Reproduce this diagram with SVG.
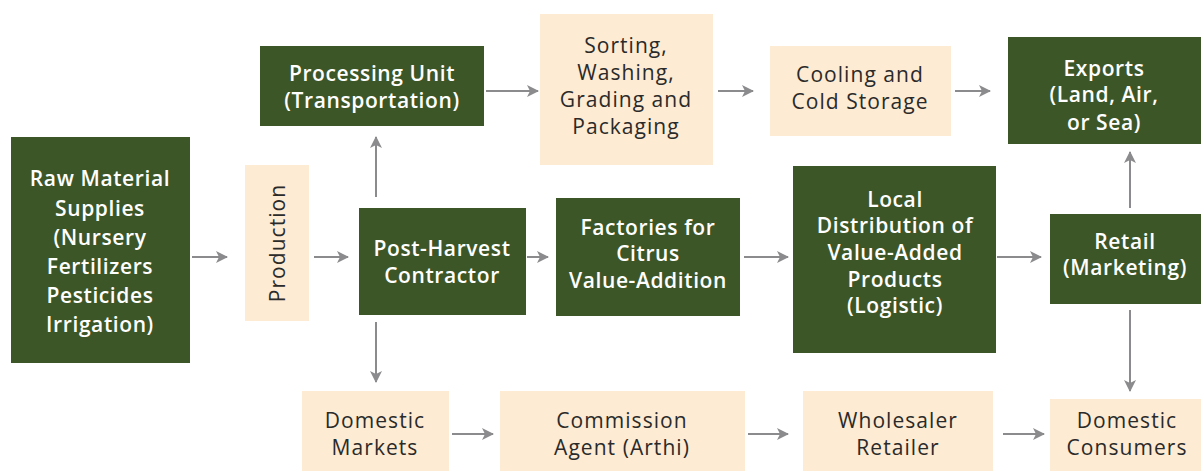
<svg xmlns="http://www.w3.org/2000/svg" width="1201" height="471" viewBox="0 0 1201 471">
<style>
.g{fill:#3c5628}
.b{fill:#fdebd3}
.tw{fill:#ffffff;font-family:"Open Sans","Liberation Sans",sans-serif;font-size:21px;font-weight:600;letter-spacing:0.6px;text-anchor:middle}
.td{fill:#2a2a2a;font-family:"Open Sans","Liberation Sans",sans-serif;font-size:21px;font-weight:400;letter-spacing:1.05px;text-anchor:middle}
.c{stroke:#8b8b8e;stroke-width:2;fill:none;marker-end:url(#ah)}
</style>
<defs>
<marker id="ah" viewBox="0 0 12 12" refX="11" refY="6" markerWidth="12" markerHeight="12" markerUnits="userSpaceOnUse" orient="auto">
<path d="M0,0 L12,6 L0,12 L3,6 Z" fill="#8b8b8e"/>
</marker>
</defs>
<rect width="1201" height="471" fill="#ffffff"/>
<g id="connectors">
<line class="c" x1="192" y1="257" x2="227" y2="257"/>
<line class="c" x1="314" y1="257" x2="348" y2="257"/>
<line class="c" x1="376" y1="197" x2="376" y2="137"/>
<line class="c" x1="376" y1="322" x2="376" y2="382"/>
<line class="c" x1="486" y1="91" x2="538" y2="91"/>
<line class="c" x1="718" y1="91" x2="753" y2="91"/>
<line class="c" x1="955" y1="91" x2="990" y2="91"/>
<line class="c" x1="527" y1="257" x2="548" y2="257"/>
<line class="c" x1="744" y1="257" x2="788" y2="257"/>
<line class="c" x1="997" y1="257" x2="1041" y2="257"/>
<line class="c" x1="1130" y1="208" x2="1130" y2="152"/>
<line class="c" x1="1130" y1="310" x2="1130" y2="391"/>
<line class="c" x1="452" y1="434" x2="493" y2="434"/>
<line class="c" x1="748" y1="434" x2="788" y2="434"/>
<line class="c" x1="1003" y1="434" x2="1044" y2="434"/>
</g>
<g id="raw">
<rect class="g" x="11" y="137" width="179" height="226"/>
<text class="tw" x="100" y="186">Raw Material</text>
<text class="tw" x="100" y="216">Supplies</text>
<text class="tw" x="100" y="245">(Nursery</text>
<text class="tw" x="100" y="274">Fertilizers</text>
<text class="tw" x="100" y="303">Pesticides</text>
<text class="tw" x="100" y="332">Irrigation)</text>
</g>
<g id="production">
<rect class="b" x="245" y="165" width="64" height="156"/>
<text class="td" transform="translate(285,243) rotate(-90)">Production</text>
</g>
<g id="postharvest">
<rect class="g" x="359" y="208" width="167" height="107"/>
<text class="tw" x="442" y="256">Post-Harvest</text>
<text class="tw" x="442" y="283">Contractor</text>
</g>
<g id="processing">
<rect class="g" x="260" y="46" width="224" height="80"/>
<text class="tw" x="372" y="81">Processing Unit</text>
<text class="tw" x="372" y="108">(Transportation)</text>
</g>
<g id="sorting">
<rect class="b" x="540" y="14" width="173" height="151"/>
<text class="td" x="626" y="53">Sorting,</text>
<text class="td" x="626" y="80">Washing,</text>
<text class="td" x="626" y="107">Grading and</text>
<text class="td" x="626" y="134">Packaging</text>
</g>
<g id="cooling">
<rect class="b" x="770" y="46" width="181" height="90"/>
<text class="td" x="860" y="82">Cooling and</text>
<text class="td" x="860" y="109">Cold Storage</text>
</g>
<g id="exports">
<rect class="g" x="1008" y="37" width="193" height="107"/>
<text class="tw" x="1104" y="76">Exports</text>
<text class="tw" x="1104" y="102">(Land, Air,</text>
<text class="tw" x="1104" y="130">or Sea)</text>
</g>
<g id="factories">
<rect class="g" x="556" y="198" width="184" height="118"/>
<text class="tw" x="648" y="235">Factories for</text>
<text class="tw" x="648" y="261">Citrus</text>
<text class="tw" x="648" y="288">Value-Addition</text>
</g>
<g id="local">
<rect class="g" x="793" y="166" width="203" height="187"/>
<text class="tw" x="895" y="207">Local</text>
<text class="tw" x="895" y="233">Distribution of</text>
<text class="tw" x="895" y="260">Value-Added</text>
<text class="tw" x="895" y="287">Products</text>
<text class="tw" x="895" y="313">(Logistic)</text>
</g>
<g id="retail">
<rect class="g" x="1050" y="214" width="151" height="90"/>
<text class="tw" x="1125" y="249">Retail</text>
<text class="tw" x="1125" y="275">(Marketing)</text>
</g>
<g id="domestic-markets">
<rect class="b" x="302" y="391" width="147" height="80"/>
<text class="td" x="375" y="428">Domestic</text>
<text class="td" x="375" y="455">Markets</text>
</g>
<g id="commission">
<rect class="b" x="500" y="391" width="245" height="80"/>
<text class="td" x="622" y="428">Commission</text>
<text class="td" x="622" y="455">Agent (Arthi)</text>
</g>
<g id="wholesaler">
<rect class="b" x="803" y="391" width="190" height="80"/>
<text class="td" x="898" y="428">Wholesaler</text>
<text class="td" x="898" y="455">Retailer</text>
</g>
<g id="domestic-consumers">
<rect class="b" x="1050" y="399" width="151" height="72"/>
<text class="td" x="1127" y="428">Domestic</text>
<text class="td" x="1127" y="455">Consumers</text>
</g>
</svg>
